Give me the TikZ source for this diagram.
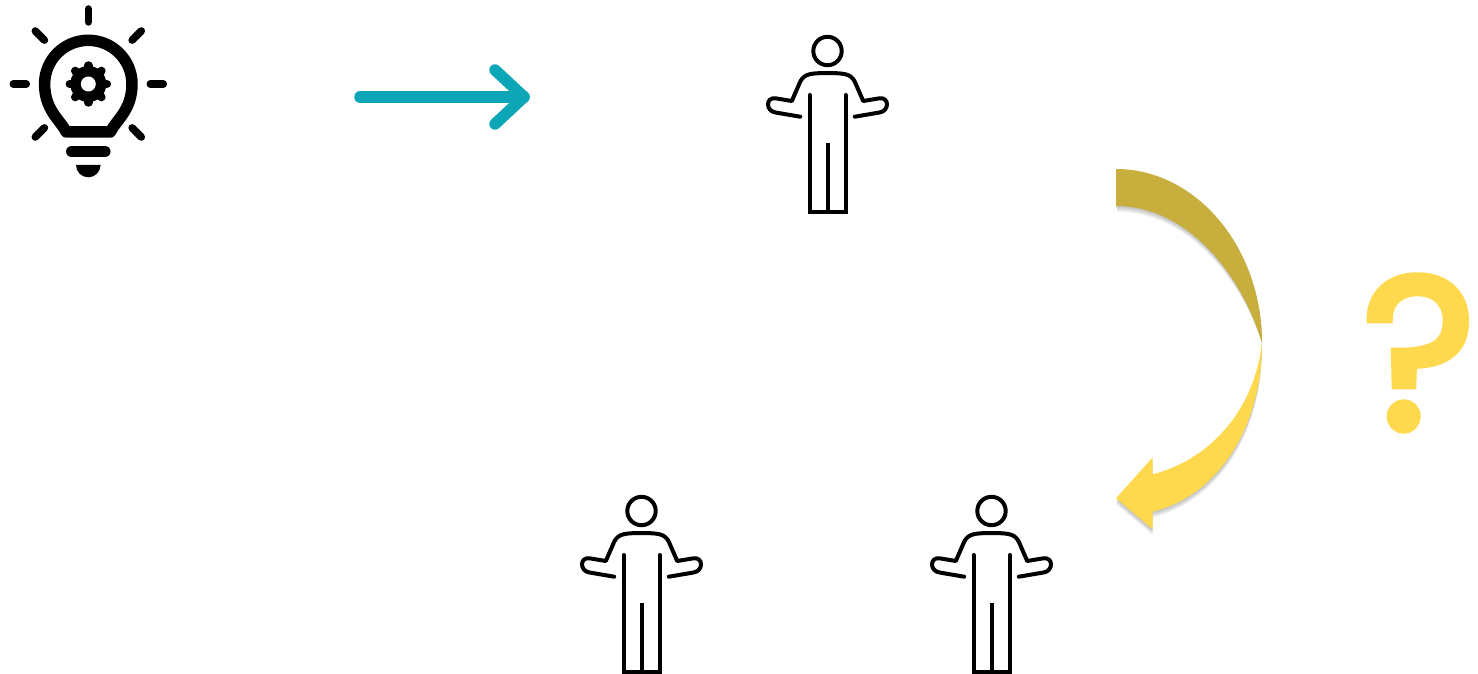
\documentclass[tikz,border=0pt]{standalone}
\usepackage{fontspec}
\newfontfamily\qfont[FakeBold=3.5]{Poppins}
\usetikzlibrary{arrows.meta,calc}
\definecolor{tealline}{HTML}{0CA6B6}
\definecolor{qyellow}{HTML}{FFD94D}
\definecolor{qdark}{HTML}{C8AE3C}
\tikzset{stroke/.style={line width=4pt, line cap=round, line join=round},
  ray/.style={line width=7.5pt, line cap=round},
  teal arrow/.style={tealline, line width=11.5pt, line cap=round, line join=round},
  soft/.style={black, opacity=0.045},
  person/.pic={
    \draw[stroke] (0,0) circle[radius=14.2];
    % arms and shoulders
    \draw[stroke] (-27.3,65.7) -- (-52,61.5) .. controls (-62,60) and (-62,46) .. (-52,47.3) -- (-35.7,50)
      -- (-27.3,30.7) .. controls (-23,22) and (-15,22.3) .. (0,22)
      .. controls (15,22.3) and (23,22) .. (27.3,30.7) -- (35.7,50) -- (52,47.3)
      .. controls (62,46) and (62,60) .. (52,61.5) -- (27.3,65.7);
    % body
    \draw[stroke, line join=miter] (-18,44) -- (-18,161) -- (18,161) -- (18,44);
    \draw[stroke, line cap=butt] (0,92) -- (0,161);
  },
  bulb/.pic={
    \foreach \ang in {0,45,135,180,225,270,315}
      \draw[ray] (\ang:62) -- (\ang:75);
    \draw[line width=11.5pt, line join=round] (-22,48) .. controls (-28,36) and (-43.7,26) .. (-43.7,0)
      arc[start angle=180, end angle=360, radius=43.7]
      .. controls (43.7,26) and (28,36) .. (22,48) -- cycle;
    % gear
    \fill (0,0) circle[radius=18];
    \foreach \ang in {0,45,...,315}
      \draw[line width=8.5pt, line cap=round] (\ang:14) -- (\ang:18.5);
    \fill[white] (0,0) circle[radius=7.5];
    % base
    \draw[line width=11.5pt, line cap=round] (-16.5,67.5) -- (16.5,67.5);
    \fill (-12.3,81) arc[start angle=180, end angle=0, radius=12.3] -- cycle;
  }}

\begin{document}
\begin{tikzpicture}[x=1pt,y=-1pt]
  \useasboundingbox (0,0) rectangle (1478,674);
  \pic (idea) at (88.3,84) {bulb};
  % teal arrow
  \coordinate (from) at (360,97);
  \coordinate (to) at (524,97);
  \draw[teal arrow] (from) -- (to);
  \draw[teal arrow] ($(to)+(-29,-27)$) -- (to) -- ($(to)+(-29,27)$);
  % people
  \pic (top) at (827.5,51) {person};
  \pic (left) at (641.5,511) {person};
  \pic (right) at (991.5,511) {person};
  % curved arrow, with a soft shadow first
  \foreach \off in {1,2,...,6}{
    \fill[soft] (1116+0.2*\off,169+\off) .. controls (1196,169+\off) and (1262,247+\off) .. (1262,343)
      .. controls (1240,270+\off) and (1185,206+\off) .. (1116+0.2*\off,206+\off) -- cycle;
    \fill[soft] (1262,343+\off) .. controls (1262,425+\off) and (1220,495+\off) .. (1152.7,511.7+\off)
      -- (1152.7,529.3+\off) -- (1116,498.3+\off) -- (1152.7,457.3+\off) -- (1152.7,474.3+\off)
      .. controls (1215,458+\off) and (1255,405+\off) .. (1262,343) -- cycle;
  }
  \fill[qdark] (1116,169) .. controls (1196,169) and (1262,247) .. (1262,343)
    .. controls (1240,270) and (1185,206) .. (1116,206) -- cycle;
  \fill[qyellow] (1262,343) .. controls (1262,425) and (1220,495) .. (1152.7,511.7)
    -- (1152.7,529.3) -- (1116,498.3) -- (1152.7,457.3) -- (1152.7,474.3)
    .. controls (1215,458) and (1255,405) .. (1262,343) -- cycle;
  \node[qyellow, font=\qfont\fontsize{216}{216}\selectfont, inner sep=0pt] (qmark) at (1419,353) {?};
\end{tikzpicture}
\end{document}
